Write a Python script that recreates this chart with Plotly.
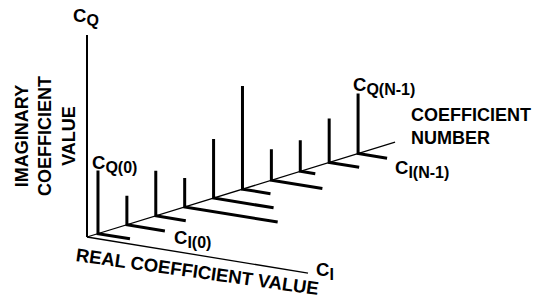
import plotly.graph_objects as go

# ---- data ----
coef_index = list(range(10))                       # coefficient number 0 .. N-1
cq_values = [0.63, 0.29, 0.45, 0.29, 0.59, 1.03, 0.31, 0.31, 0.44, 0.60]   # imaginary parts
ci_values = [0.32, 0.38, 0.30, 0.93, 0.60, 0.28, 0.51, 0.15, 0.30, 0.29]   # real parts

# axis extents (in axis units)
q_axis_len = 2.02
i_axis_len = 2.21
n_axis_start = -0.38
n_axis_end = 10.28

# ---- oblique projection of the 3-D axes onto the page ----
N_DIR = (0.289, 0.089)     # one coefficient step
I_DIR = (1.0, -0.163)      # real axis direction
Q_DIR = (0.0, 1.0)         # imaginary axis direction


def proj(n, re, im):
    nn = n - n_axis_start
    return (nn * N_DIR[0] + re * I_DIR[0] + im * Q_DIR[0],
            nn * N_DIR[1] + re * I_DIR[1] + im * Q_DIR[1])


fig = go.Figure()

# axes
def axis_line(p0, p1, width):
    fig.add_trace(go.Scatter(x=[p0[0], p1[0]], y=[p0[1], p1[1]], mode="lines",
                             line=dict(color="black", width=width),
                             hoverinfo="skip", showlegend=False))

origin = proj(n_axis_start, 0, 0)
axis_line(origin, proj(n_axis_start, 0, q_axis_len), 2)
axis_line(origin, proj(n_axis_start, i_axis_len, 0), 1.3)
axis_line(origin, proj(n_axis_end, 0, 0), 1.3)

# coefficient L-shapes (real part along I, imaginary part along Q)
xs, ys = [], []
for n, re, im in zip(coef_index, ci_values, cq_values):
    for p in (proj(n, re, 0), proj(n, 0, 0), proj(n, 0, im)):
        xs.append(p[0]); ys.append(p[1])
    xs.append(None); ys.append(None)
fig.add_trace(go.Scatter(x=xs, y=ys, mode="lines",
                         line=dict(color="black", width=3),
                         hoverinfo="skip", showlegend=False))

FONT = "Liberation Sans, Arial, Helvetica, sans-serif"


def label(text, x, y, size=18, angle=0, align="center", xanchor="center"):
    fig.add_annotation(x=x, y=y, xref="x", yref="y", text=text, showarrow=False,
                       textangle=angle, align=align, xanchor=xanchor, yanchor="middle",
                       font=dict(family=FONT, size=size, color="black"))


def csub(sub):
    return "<b>C<sub><span style='font-size:16px'>%s</span></sub></b>" % sub


def px(xp, yp):
    return ((xp - 87) / 100.0, (237 - yp) / 100.0)


label(csub("Q"), *px(86, 17), size=18.5)
label(csub("Q(0)"), *px(114, 164), size=18.5)
label(csub("I(0)"), *px(192, 239), size=18.5)
label(csub("Q(N-1)"), *px(384, 86), size=18.5)
label(csub("I(N-1)"), *px(422, 169), size=18.5)
label(csub("I"), *px(325, 271), size=18.5)
label("<b>COEFFICIENT<br>NUMBER</b>", *px(409, 126), size=18, align="left", xanchor="left")
label("<b>IMAGINARY<br>COEFFICIENT<br>VALUE</b>", *px(45, 136), size=18, angle=-90)
label("<b>REAL COEFFICIENT VALUE</b>", *px(197, 271), size=18.5, angle=8)

fig.update_xaxes(range=[-0.87, 4.55], visible=False, fixedrange=True)
fig.update_yaxes(range=[-0.60, 2.37], visible=False, fixedrange=True)
fig.update_layout(width=542, height=297, margin=dict(l=0, r=0, t=0, b=0),
                  plot_bgcolor="white", paper_bgcolor="white", showlegend=False)

fig.write_html("out.html", config={"displayModeBar": False},
               post_script="document.body.style.margin='0';")
